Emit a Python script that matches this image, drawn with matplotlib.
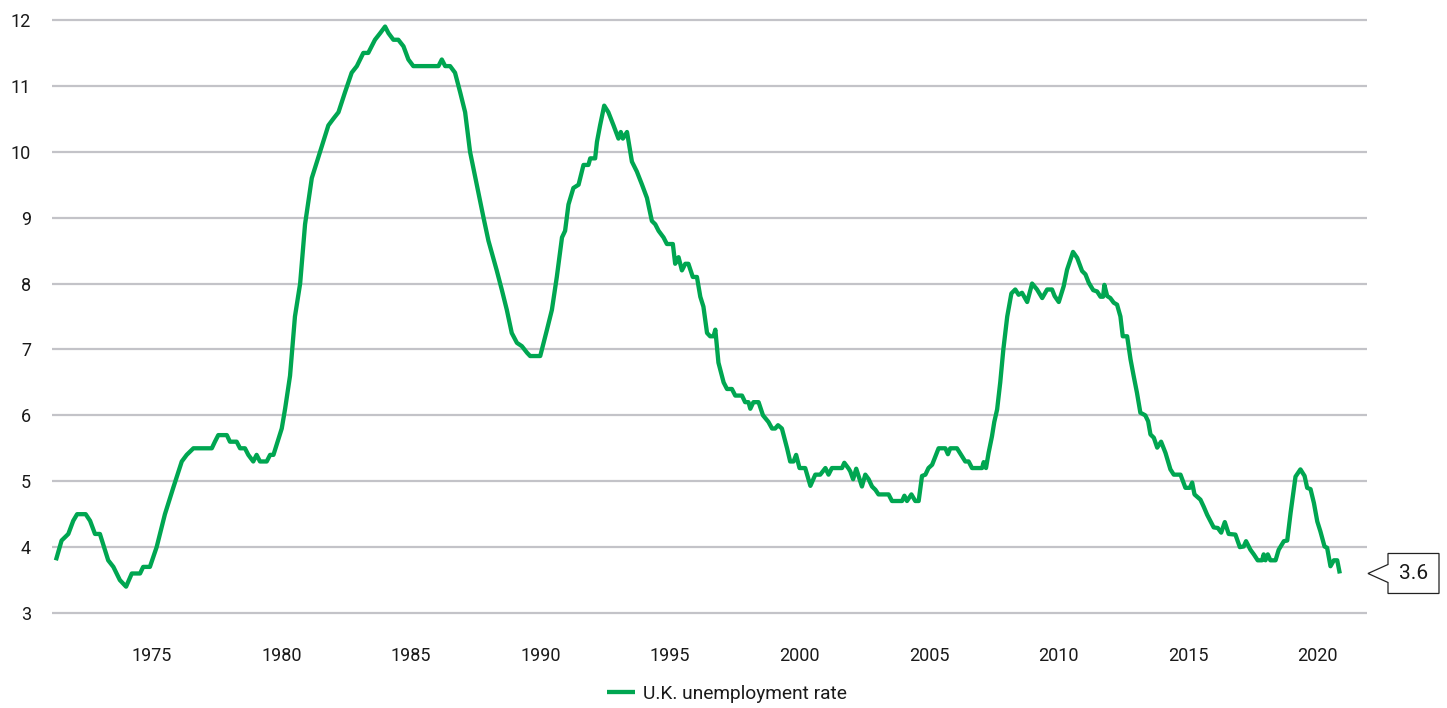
import matplotlib
matplotlib.use("Agg")
import matplotlib.pyplot as plt
import matplotlib.transforms as mtransforms
from matplotlib.patches import Polygon

plt.rcParams['font.family'] = ['Roboto', 'DejaVu Sans']

# ---- data (decimal year on the chart's axis, unemployment rate %) ----
years = [
    1971.29, 1971.51, 1971.77, 1971.96, 1972.11, 1972.44, 1972.61, 1972.80, 1972.99, 1973.31,
    1973.51, 1973.76, 1974.00, 1974.22, 1974.54, 1974.66, 1974.92, 1975.18, 1975.50, 1975.82,
    1976.15, 1976.34, 1976.60, 1977.31, 1977.43, 1977.56, 1977.89, 1978.01, 1978.27, 1978.40,
    1978.59, 1978.72, 1978.91, 1979.04, 1979.17, 1979.43, 1979.56, 1979.69, 1980.01, 1980.14,
    1980.33, 1980.52, 1980.72, 1980.91, 1981.17, 1981.49, 1981.81, 1982.00, 1982.20, 1982.45,
    1982.71, 1982.91, 1983.16, 1983.35, 1983.61, 1983.81, 1984.00, 1984.13, 1984.32, 1984.51,
    1984.71, 1984.90, 1985.09, 1986.06, 1986.19, 1986.32, 1986.51, 1986.70, 1986.90, 1987.09,
    1987.28, 1987.54, 1987.80, 1987.99, 1988.31, 1988.51, 1988.70, 1988.89, 1989.09, 1989.28,
    1989.48, 1989.60, 1989.99, 1990.25, 1990.44, 1990.63, 1990.83, 1990.95, 1991.08, 1991.27,
    1991.47, 1991.66, 1991.85, 1991.92, 1992.11, 1992.18, 1992.30, 1992.46, 1992.62, 1992.82,
    1993.01, 1993.10, 1993.18, 1993.34, 1993.53, 1993.72, 1993.92, 1994.11, 1994.30, 1994.43,
    1994.56, 1994.75, 1994.88, 1995.11, 1995.20, 1995.33, 1995.46, 1995.59, 1995.71, 1995.88,
    1996.04, 1996.17, 1996.29, 1996.43, 1996.55, 1996.68, 1996.75, 1996.87, 1997.07, 1997.20,
    1997.39, 1997.52, 1997.78, 1997.90, 1998.03, 1998.10, 1998.22, 1998.42, 1998.59, 1998.80,
    1998.94, 1999.06, 1999.17, 1999.32, 1999.52, 1999.64, 1999.77, 1999.87, 2000.00, 2000.22,
    2000.42, 2000.61, 2000.80, 2001.00, 2001.12, 2001.25, 2001.64, 2001.73, 2001.90, 2001.96,
    2002.07, 2002.19, 2002.28, 2002.41, 2002.54, 2002.67, 2002.80, 2002.93, 2003.05, 2003.44,
    2003.57, 2003.96, 2004.05, 2004.15, 2004.32, 2004.47, 2004.60, 2004.73, 2004.86, 2004.98,
    2005.12, 2005.37, 2005.63, 2005.73, 2005.82, 2006.08, 2006.27, 2006.40, 2006.53, 2006.66,
    2007.05, 2007.11, 2007.20, 2007.30, 2007.43, 2007.52, 2007.63, 2007.75, 2007.87, 2008.02,
    2008.18, 2008.33, 2008.46, 2008.59, 2008.79, 2008.98, 2009.17, 2009.37, 2009.56, 2009.75,
    2009.85, 2010.01, 2010.20, 2010.33, 2010.56, 2010.72, 2010.91, 2011.04, 2011.17, 2011.34,
    2011.49, 2011.62, 2011.72, 2011.77, 2011.88, 2012.00, 2012.13, 2012.26, 2012.39, 2012.48,
    2012.65, 2012.78, 2012.90, 2013.03, 2013.16, 2013.35, 2013.46, 2013.55, 2013.68, 2013.81,
    2013.96, 2014.13, 2014.32, 2014.45, 2014.71, 2014.90, 2015.07, 2015.16, 2015.25, 2015.48,
    2015.61, 2015.74, 2015.87, 2015.99, 2016.15, 2016.28, 2016.42, 2016.57, 2016.83, 2017.00,
    2017.15, 2017.24, 2017.41, 2017.54, 2017.69, 2017.86, 2017.92, 2017.99, 2018.08, 2018.18,
    2018.38, 2018.50, 2018.70, 2018.83, 2018.96, 2019.15, 2019.34, 2019.50, 2019.60, 2019.73,
    2019.86, 2019.99, 2020.11, 2020.27, 2020.37, 2020.50, 2020.63, 2020.76, 2020.86,
]
rate = [
    3.8, 4.1, 4.2, 4.4, 4.5, 4.5, 4.4, 4.2, 4.2, 3.8,
    3.7, 3.5, 3.4, 3.6, 3.6, 3.7, 3.7, 4.0, 4.5, 4.9,
    5.3, 5.4, 5.5, 5.5, 5.6, 5.7, 5.7, 5.6, 5.6, 5.5,
    5.5, 5.4, 5.3, 5.4, 5.3, 5.3, 5.4, 5.4, 5.8, 6.1,
    6.6, 7.5, 8.0, 8.9, 9.6, 10.0, 10.4, 10.5, 10.6, 10.9,
    11.2, 11.3, 11.5, 11.5, 11.7, 11.8, 11.9, 11.8, 11.7, 11.7,
    11.6, 11.4, 11.3, 11.3, 11.4, 11.3, 11.3, 11.2, 10.9, 10.6,
    10.0, 9.5, 9.0, 8.65, 8.2, 7.9, 7.6, 7.25, 7.1, 7.05,
    6.95, 6.9, 6.9, 7.3, 7.6, 8.1, 8.7, 8.8, 9.2, 9.45,
    9.5, 9.8, 9.8, 9.9, 9.9, 10.15, 10.4, 10.7, 10.6, 10.4,
    10.2, 10.3, 10.2, 10.3, 9.85, 9.7, 9.5, 9.3, 8.95, 8.9,
    8.8, 8.7, 8.6, 8.6, 8.3, 8.4, 8.2, 8.3, 8.3, 8.1,
    8.1, 7.8, 7.65, 7.25, 7.2, 7.2, 7.3, 6.8, 6.5, 6.4,
    6.4, 6.3, 6.3, 6.2, 6.2, 6.1, 6.2, 6.2, 6.0, 5.9,
    5.8, 5.8, 5.85, 5.8, 5.5, 5.3, 5.3, 5.4, 5.2, 5.2,
    4.93, 5.1, 5.1, 5.2, 5.1, 5.2, 5.2, 5.28, 5.19, 5.15,
    5.03, 5.19, 5.08, 4.92, 5.1, 5.03, 4.92, 4.87, 4.8, 4.8,
    4.7, 4.7, 4.78, 4.7, 4.8, 4.7, 4.7, 5.08, 5.1, 5.2,
    5.25, 5.5, 5.5, 5.41, 5.5, 5.5, 5.38, 5.3, 5.3, 5.2,
    5.2, 5.29, 5.2, 5.43, 5.68, 5.9, 6.09, 6.5, 7.0, 7.5,
    7.85, 7.91, 7.83, 7.86, 7.72, 8.0, 7.91, 7.78, 7.91, 7.91,
    7.81, 7.72, 7.96, 8.21, 8.48, 8.39, 8.19, 8.14, 8.01, 7.9,
    7.88, 7.8, 7.8, 7.98, 7.81, 7.78, 7.71, 7.68, 7.5, 7.2,
    7.2, 6.85, 6.6, 6.34, 6.04, 6.0, 5.91, 5.71, 5.66, 5.51,
    5.6, 5.43, 5.18, 5.1, 5.1, 4.9, 4.9, 4.98, 4.8, 4.72,
    4.61, 4.49, 4.39, 4.3, 4.29, 4.22, 4.38, 4.2, 4.19, 4.0,
    4.01, 4.09, 3.96, 3.89, 3.8, 3.8, 3.89, 3.8, 3.89, 3.8,
    3.8, 3.96, 4.09, 4.1, 4.52, 5.07, 5.18, 5.08, 4.9, 4.88,
    4.67, 4.39, 4.24, 4.01, 3.99, 3.71, 3.8, 3.8, 3.6,
]
x_ticks = [1975, 1980, 1985, 1990, 1995, 2000, 2005, 2010, 2015, 2020]
y_ticks = [3, 4, 5, 6, 7, 8, 9, 10, 11, 12]
series_label = "U.K. unemployment rate"
callout_value = rate[-1]

GREEN = "#00a651"
GRID = "#c3c3c8"
TEXT = "#1a1a1a"

W, H = 1447, 708
fig = plt.figure(figsize=(W / 100, H / 100), dpi=100)
ax = fig.add_axes([52 / W, 1 - 626.2 / H, 1315 / W, 619.4 / H])

ax.plot(years, rate, color=GREEN, lw=3.1, solid_joinstyle="round",
        solid_capstyle="butt", label=series_label, zorder=3)

ax.set_xlim(1971.14, 2021.91)
ax.set_ylim(2.8, 12.2)
ax.set_xticks(x_ticks)
ax.set_yticks(y_ticks)
ax.set_xticklabels([str(t) for t in x_ticks])
ax.set_yticklabels([str(t) for t in y_ticks])
ax.tick_params(axis="both", length=0, labelsize=13, colors=TEXT)
ax.tick_params(axis="y", pad=15)
ax.tick_params(axis="x", pad=15)
ax.grid(axis="y", color=GRID, lw=1.6, zorder=0)
ax.grid(axis="x", visible=False)
for s in ax.spines.values():
    s.set_visible(False)
ax.set_facecolor("white")

# legend
leg = fig.legend(loc="center", bbox_to_anchor=(727 / W, 1 - 694 / H),
                 frameon=False, fontsize=13.8, handlelength=1.45,
                 handletextpad=0.45, borderaxespad=0)
for t in leg.get_texts():
    t.set_color(TEXT)

# callout box with pointer for latest value
fig.canvas.draw()
tip_x = ax.transAxes.transform((1.0, 0.0))[0] + 1
tip_y = ax.transData.transform((0, callout_value))[1]
off = mtransforms.Affine2D().translate(tip_x, tip_y)
verts = [(0, 0), (20, 9), (20, 20), (71, 20), (71, -20), (20, -20), (20, -9)]
poly = Polygon(verts, closed=True, facecolor="white", edgecolor="#222222",
               lw=0.9, transform=off, clip_on=False)
fig.add_artist(poly)
fig.text(tip_x + 45.5, tip_y, f"{callout_value:.1f}", transform=mtransforms.IdentityTransform(),
         ha="center", va="center", fontsize=15, color=TEXT)

fig.savefig("out.png", dpi=100, facecolor="white")
